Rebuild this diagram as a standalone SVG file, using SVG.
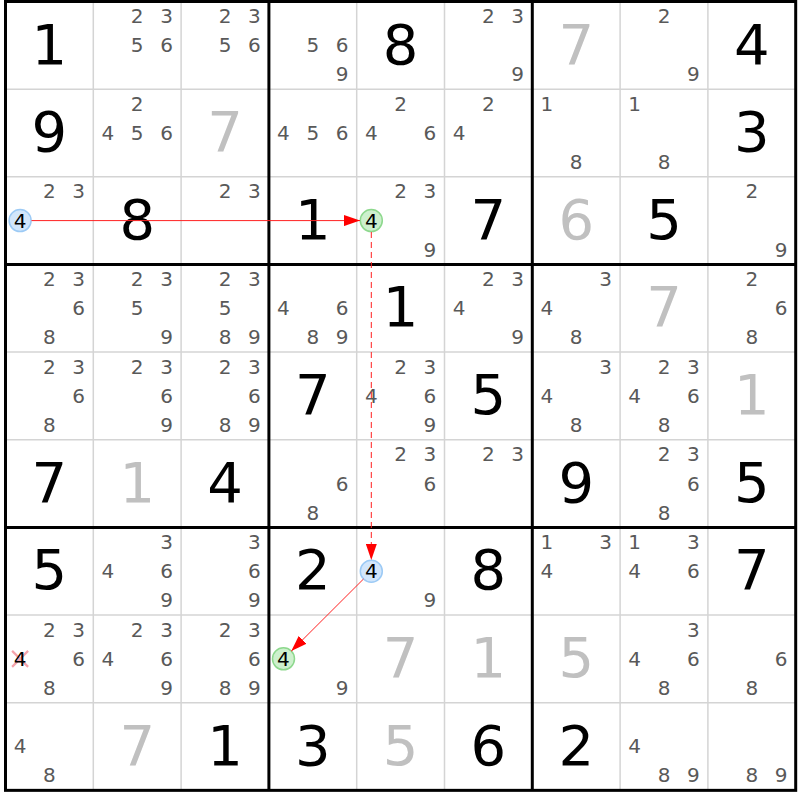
<svg xmlns="http://www.w3.org/2000/svg" width="800" height="800" viewBox="0 0 800 800">
<style>
text{font-family:"DejaVu Sans",Verdana,sans-serif;text-anchor:middle}
.g{font-size:56px;fill:#000}
.h{font-size:56px;fill:#c0c0c0}
.c{font-size:20px;fill:#595959}
.k{font-size:20px;fill:#000}
.thin{stroke:#d4d4d4;stroke-width:1.5}
.thick{stroke:#000;stroke-width:3}
.cb{fill:#d2e6fb;stroke:#9ccaf5;stroke-width:1.5}
.cg{fill:#cdf0cd;stroke:#8dd88d;stroke-width:1.5}
.arr{stroke:#ff2020;stroke-width:1;fill:none}
</style>
<defs>
<marker id="ah" markerUnits="userSpaceOnUse" markerWidth="16" markerHeight="11" refX="16" refY="5.5" orient="auto">
<path d="M0,0 L16,5.5 L0,11 z" fill="#ff0000"/>
</marker>
</defs>
<rect width="800" height="800" fill="#fff"/>
<g id="grid">
<g class="thin">
<line x1="93.3" y1="1.5" x2="93.3" y2="790.35"/>
<line x1="181.1" y1="1.5" x2="181.1" y2="790.35"/>
<line x1="356.7" y1="1.5" x2="356.7" y2="790.35"/>
<line x1="444.5" y1="1.5" x2="444.5" y2="790.35"/>
<line x1="620.1" y1="1.5" x2="620.1" y2="790.35"/>
<line x1="707.9" y1="1.5" x2="707.9" y2="790.35"/>
<line x1="5.5" y1="89.15" x2="795.7" y2="89.15"/>
<line x1="5.5" y1="176.8" x2="795.7" y2="176.8"/>
<line x1="5.5" y1="352.1" x2="795.7" y2="352.1"/>
<line x1="5.5" y1="439.75" x2="795.7" y2="439.75"/>
<line x1="5.5" y1="615.05" x2="795.7" y2="615.05"/>
<line x1="5.5" y1="702.7" x2="795.7" y2="702.7"/>
</g>
<g class="thick">
<line x1="268.9" y1="1.5" x2="268.9" y2="790.35"/>
<line x1="532.3" y1="1.5" x2="532.3" y2="790.35"/>
<line x1="5.5" y1="264.45" x2="795.7" y2="264.45"/>
<line x1="5.5" y1="527.4" x2="795.7" y2="527.4"/>
<rect x="5.5" y="1.5" width="790.2" height="788.85" fill="none"/>
</g>
</g>

<!-- Row 0 -->
<g id="r0c0" transform="translate(5.5,1.5)"><text class="g" x="43.9" y="62">1</text></g>
<g id="r0c1" transform="translate(93.3,1.5)"><text class="c" x="43.9" y="21.6">2</text><text class="c" x="73.2" y="21.6">3</text><text class="c" x="43.9" y="50.8">5</text><text class="c" x="73.2" y="50.8">6</text></g>
<g id="r0c2" transform="translate(181.1,1.5)"><text class="c" x="43.9" y="21.6">2</text><text class="c" x="73.2" y="21.6">3</text><text class="c" x="43.9" y="50.8">5</text><text class="c" x="73.2" y="50.8">6</text></g>
<g id="r0c3" transform="translate(268.9,1.5)"><text class="c" x="43.9" y="50.8">5</text><text class="c" x="73.2" y="50.8">6</text><text class="c" x="73.2" y="79.8">9</text></g>
<g id="r0c4" transform="translate(356.7,1.5)"><text class="g" x="43.9" y="62">8</text></g>
<g id="r0c5" transform="translate(444.5,1.5)"><text class="c" x="43.9" y="21.6">2</text><text class="c" x="73.2" y="21.6">3</text><text class="c" x="73.2" y="79.8">9</text></g>
<g id="r0c6" transform="translate(532.3,1.5)"><text class="h" x="43.9" y="62">7</text></g>
<g id="r0c7" transform="translate(620.1,1.5)"><text class="c" x="43.9" y="21.6">2</text><text class="c" x="73.2" y="79.8">9</text></g>
<g id="r0c8" transform="translate(707.9,1.5)"><text class="g" x="43.9" y="62">4</text></g>

<!-- Row 1 -->
<g id="r1c0" transform="translate(5.5,89.15)"><text class="g" x="43.9" y="62">9</text></g>
<g id="r1c1" transform="translate(93.3,89.15)"><text class="c" x="43.9" y="21.6">2</text><text class="c" x="14.6" y="50.8">4</text><text class="c" x="43.9" y="50.8">5</text><text class="c" x="73.2" y="50.8">6</text></g>
<g id="r1c2" transform="translate(181.1,89.15)"><text class="h" x="43.9" y="62">7</text></g>
<g id="r1c3" transform="translate(268.9,89.15)"><text class="c" x="14.6" y="50.8">4</text><text class="c" x="43.9" y="50.8">5</text><text class="c" x="73.2" y="50.8">6</text></g>
<g id="r1c4" transform="translate(356.7,89.15)"><text class="c" x="43.9" y="21.6">2</text><text class="c" x="14.6" y="50.8">4</text><text class="c" x="73.2" y="50.8">6</text></g>
<g id="r1c5" transform="translate(444.5,89.15)"><text class="c" x="43.9" y="21.6">2</text><text class="c" x="14.6" y="50.8">4</text></g>
<g id="r1c6" transform="translate(532.3,89.15)"><text class="c" x="14.6" y="21.6">1</text><text class="c" x="43.9" y="79.8">8</text></g>
<g id="r1c7" transform="translate(620.1,89.15)"><text class="c" x="14.6" y="21.6">1</text><text class="c" x="43.9" y="79.8">8</text></g>
<g id="r1c8" transform="translate(707.9,89.15)"><text class="g" x="43.9" y="62">3</text></g>

<!-- Row 2 -->
<g id="r2c0" transform="translate(5.5,176.8)"><text class="c" x="43.9" y="21.6">2</text><text class="c" x="73.2" y="21.6">3</text><circle class="cb" cx="14.6" cy="43.8" r="11"/><text class="k" x="14.6" y="50.8">4</text></g>
<g id="r2c1" transform="translate(93.3,176.8)"><text class="g" x="43.9" y="62">8</text></g>
<g id="r2c2" transform="translate(181.1,176.8)"><text class="c" x="43.9" y="21.6">2</text><text class="c" x="73.2" y="21.6">3</text></g>
<g id="r2c3" transform="translate(268.9,176.8)"><text class="g" x="43.9" y="62">1</text></g>
<g id="r2c4" transform="translate(356.7,176.8)"><text class="c" x="43.9" y="21.6">2</text><text class="c" x="73.2" y="21.6">3</text><circle class="cg" cx="14.6" cy="43.8" r="11"/><text class="k" x="14.6" y="50.8">4</text><text class="c" x="73.2" y="79.8">9</text></g>
<g id="r2c5" transform="translate(444.5,176.8)"><text class="g" x="43.9" y="62">7</text></g>
<g id="r2c6" transform="translate(532.3,176.8)"><text class="h" x="43.9" y="62">6</text></g>
<g id="r2c7" transform="translate(620.1,176.8)"><text class="g" x="43.9" y="62">5</text></g>
<g id="r2c8" transform="translate(707.9,176.8)"><text class="c" x="43.9" y="21.6">2</text><text class="c" x="73.2" y="79.8">9</text></g>

<!-- Row 3 -->
<g id="r3c0" transform="translate(5.5,264.45)"><text class="c" x="43.9" y="21.6">2</text><text class="c" x="73.2" y="21.6">3</text><text class="c" x="73.2" y="50.8">6</text><text class="c" x="43.9" y="79.8">8</text></g>
<g id="r3c1" transform="translate(93.3,264.45)"><text class="c" x="43.9" y="21.6">2</text><text class="c" x="73.2" y="21.6">3</text><text class="c" x="43.9" y="50.8">5</text><text class="c" x="73.2" y="79.8">9</text></g>
<g id="r3c2" transform="translate(181.1,264.45)"><text class="c" x="43.9" y="21.6">2</text><text class="c" x="73.2" y="21.6">3</text><text class="c" x="43.9" y="50.8">5</text><text class="c" x="43.9" y="79.8">8</text><text class="c" x="73.2" y="79.8">9</text></g>
<g id="r3c3" transform="translate(268.9,264.45)"><text class="c" x="14.6" y="50.8">4</text><text class="c" x="73.2" y="50.8">6</text><text class="c" x="43.9" y="79.8">8</text><text class="c" x="73.2" y="79.8">9</text></g>
<g id="r3c4" transform="translate(356.7,264.45)"><text class="g" x="43.9" y="62">1</text></g>
<g id="r3c5" transform="translate(444.5,264.45)"><text class="c" x="43.9" y="21.6">2</text><text class="c" x="73.2" y="21.6">3</text><text class="c" x="14.6" y="50.8">4</text><text class="c" x="73.2" y="79.8">9</text></g>
<g id="r3c6" transform="translate(532.3,264.45)"><text class="c" x="73.2" y="21.6">3</text><text class="c" x="14.6" y="50.8">4</text><text class="c" x="43.9" y="79.8">8</text></g>
<g id="r3c7" transform="translate(620.1,264.45)"><text class="h" x="43.9" y="62">7</text></g>
<g id="r3c8" transform="translate(707.9,264.45)"><text class="c" x="43.9" y="21.6">2</text><text class="c" x="73.2" y="50.8">6</text><text class="c" x="43.9" y="79.8">8</text></g>

<!-- Row 4 -->
<g id="r4c0" transform="translate(5.5,352.1)"><text class="c" x="43.9" y="21.6">2</text><text class="c" x="73.2" y="21.6">3</text><text class="c" x="73.2" y="50.8">6</text><text class="c" x="43.9" y="79.8">8</text></g>
<g id="r4c1" transform="translate(93.3,352.1)"><text class="c" x="43.9" y="21.6">2</text><text class="c" x="73.2" y="21.6">3</text><text class="c" x="73.2" y="50.8">6</text><text class="c" x="73.2" y="79.8">9</text></g>
<g id="r4c2" transform="translate(181.1,352.1)"><text class="c" x="43.9" y="21.6">2</text><text class="c" x="73.2" y="21.6">3</text><text class="c" x="73.2" y="50.8">6</text><text class="c" x="43.9" y="79.8">8</text><text class="c" x="73.2" y="79.8">9</text></g>
<g id="r4c3" transform="translate(268.9,352.1)"><text class="g" x="43.9" y="62">7</text></g>
<g id="r4c4" transform="translate(356.7,352.1)"><text class="c" x="43.9" y="21.6">2</text><text class="c" x="73.2" y="21.6">3</text><text class="c" x="14.6" y="50.8">4</text><text class="c" x="73.2" y="50.8">6</text><text class="c" x="73.2" y="79.8">9</text></g>
<g id="r4c5" transform="translate(444.5,352.1)"><text class="g" x="43.9" y="62">5</text></g>
<g id="r4c6" transform="translate(532.3,352.1)"><text class="c" x="73.2" y="21.6">3</text><text class="c" x="14.6" y="50.8">4</text><text class="c" x="43.9" y="79.8">8</text></g>
<g id="r4c7" transform="translate(620.1,352.1)"><text class="c" x="43.9" y="21.6">2</text><text class="c" x="73.2" y="21.6">3</text><text class="c" x="14.6" y="50.8">4</text><text class="c" x="73.2" y="50.8">6</text><text class="c" x="43.9" y="79.8">8</text></g>
<g id="r4c8" transform="translate(707.9,352.1)"><text class="h" x="43.9" y="62">1</text></g>

<!-- Row 5 -->
<g id="r5c0" transform="translate(5.5,439.75)"><text class="g" x="43.9" y="62">7</text></g>
<g id="r5c1" transform="translate(93.3,439.75)"><text class="h" x="43.9" y="62">1</text></g>
<g id="r5c2" transform="translate(181.1,439.75)"><text class="g" x="43.9" y="62">4</text></g>
<g id="r5c3" transform="translate(268.9,439.75)"><text class="c" x="73.2" y="50.8">6</text><text class="c" x="43.9" y="79.8">8</text></g>
<g id="r5c4" transform="translate(356.7,439.75)"><text class="c" x="43.9" y="21.6">2</text><text class="c" x="73.2" y="21.6">3</text><text class="c" x="73.2" y="50.8">6</text></g>
<g id="r5c5" transform="translate(444.5,439.75)"><text class="c" x="43.9" y="21.6">2</text><text class="c" x="73.2" y="21.6">3</text></g>
<g id="r5c6" transform="translate(532.3,439.75)"><text class="g" x="43.9" y="62">9</text></g>
<g id="r5c7" transform="translate(620.1,439.75)"><text class="c" x="43.9" y="21.6">2</text><text class="c" x="73.2" y="21.6">3</text><text class="c" x="73.2" y="50.8">6</text><text class="c" x="43.9" y="79.8">8</text></g>
<g id="r5c8" transform="translate(707.9,439.75)"><text class="g" x="43.9" y="62">5</text></g>

<!-- Row 6 -->
<g id="r6c0" transform="translate(5.5,527.4)"><text class="g" x="43.9" y="62">5</text></g>
<g id="r6c1" transform="translate(93.3,527.4)"><text class="c" x="73.2" y="21.6">3</text><text class="c" x="14.6" y="50.8">4</text><text class="c" x="73.2" y="50.8">6</text><text class="c" x="73.2" y="79.8">9</text></g>
<g id="r6c2" transform="translate(181.1,527.4)"><text class="c" x="73.2" y="21.6">3</text><text class="c" x="73.2" y="50.8">6</text><text class="c" x="73.2" y="79.8">9</text></g>
<g id="r6c3" transform="translate(268.9,527.4)"><text class="g" x="43.9" y="62">2</text></g>
<g id="r6c4" transform="translate(356.7,527.4)"><circle class="cb" cx="14.6" cy="43.8" r="11"/><text class="k" x="14.6" y="50.8">4</text><text class="c" x="73.2" y="79.8">9</text></g>
<g id="r6c5" transform="translate(444.5,527.4)"><text class="g" x="43.9" y="62">8</text></g>
<g id="r6c6" transform="translate(532.3,527.4)"><text class="c" x="14.6" y="21.6">1</text><text class="c" x="73.2" y="21.6">3</text><text class="c" x="14.6" y="50.8">4</text></g>
<g id="r6c7" transform="translate(620.1,527.4)"><text class="c" x="14.6" y="21.6">1</text><text class="c" x="73.2" y="21.6">3</text><text class="c" x="14.6" y="50.8">4</text><text class="c" x="73.2" y="50.8">6</text></g>
<g id="r6c8" transform="translate(707.9,527.4)"><text class="g" x="43.9" y="62">7</text></g>

<!-- Row 7 -->
<g id="r7c0" transform="translate(5.5,615.05)"><text class="c" x="43.9" y="21.6">2</text><text class="c" x="73.2" y="21.6">3</text><path d="M6.6,35.8 L22.6,51.8 M6.6,51.8 L22.6,35.8" stroke="#f5a3ab" stroke-width="2.2" fill="none"/><text class="k" x="14.6" y="50.8">4</text><text class="c" x="73.2" y="50.8">6</text><text class="c" x="43.9" y="79.8">8</text></g>
<g id="r7c1" transform="translate(93.3,615.05)"><text class="c" x="43.9" y="21.6">2</text><text class="c" x="73.2" y="21.6">3</text><text class="c" x="14.6" y="50.8">4</text><text class="c" x="73.2" y="50.8">6</text><text class="c" x="73.2" y="79.8">9</text></g>
<g id="r7c2" transform="translate(181.1,615.05)"><text class="c" x="43.9" y="21.6">2</text><text class="c" x="73.2" y="21.6">3</text><text class="c" x="73.2" y="50.8">6</text><text class="c" x="43.9" y="79.8">8</text><text class="c" x="73.2" y="79.8">9</text></g>
<g id="r7c3" transform="translate(268.9,615.05)"><circle class="cg" cx="14.6" cy="43.8" r="11"/><text class="k" x="14.6" y="50.8">4</text><text class="c" x="73.2" y="79.8">9</text></g>
<g id="r7c4" transform="translate(356.7,615.05)"><text class="h" x="43.9" y="62">7</text></g>
<g id="r7c5" transform="translate(444.5,615.05)"><text class="h" x="43.9" y="62">1</text></g>
<g id="r7c6" transform="translate(532.3,615.05)"><text class="h" x="43.9" y="62">5</text></g>
<g id="r7c7" transform="translate(620.1,615.05)"><text class="c" x="73.2" y="21.6">3</text><text class="c" x="14.6" y="50.8">4</text><text class="c" x="73.2" y="50.8">6</text><text class="c" x="43.9" y="79.8">8</text></g>
<g id="r7c8" transform="translate(707.9,615.05)"><text class="c" x="73.2" y="50.8">6</text><text class="c" x="43.9" y="79.8">8</text></g>

<!-- Row 8 -->
<g id="r8c0" transform="translate(5.5,702.7)"><text class="c" x="14.6" y="50.8">4</text><text class="c" x="43.9" y="79.8">8</text></g>
<g id="r8c1" transform="translate(93.3,702.7)"><text class="h" x="43.9" y="62">7</text></g>
<g id="r8c2" transform="translate(181.1,702.7)"><text class="g" x="43.9" y="62">1</text></g>
<g id="r8c3" transform="translate(268.9,702.7)"><text class="g" x="43.9" y="62">3</text></g>
<g id="r8c4" transform="translate(356.7,702.7)"><text class="h" x="43.9" y="62">5</text></g>
<g id="r8c5" transform="translate(444.5,702.7)"><text class="g" x="43.9" y="62">6</text></g>
<g id="r8c6" transform="translate(532.3,702.7)"><text class="g" x="43.9" y="62">2</text></g>
<g id="r8c7" transform="translate(620.1,702.7)"><text class="c" x="14.6" y="50.8">4</text><text class="c" x="43.9" y="79.8">8</text><text class="c" x="73.2" y="79.8">9</text></g>
<g id="r8c8" transform="translate(707.9,702.7)"><text class="c" x="43.9" y="79.8">8</text><text class="c" x="73.2" y="79.8">9</text></g>

<g id="connectors">
<line class="arr" x1="31.5" y1="220.6" x2="360" y2="220.6" marker-end="url(#ah)"/>
<line class="arr" x1="371.3" y1="232" x2="371.3" y2="560" stroke-dasharray="6 4" stroke="#ff0000" stroke-width="1.6" marker-end="url(#ah)"/>
<line class="arr" x1="363.5" y1="579" x2="291.3" y2="651.1" marker-end="url(#ah)"/>
</g>
</svg>
